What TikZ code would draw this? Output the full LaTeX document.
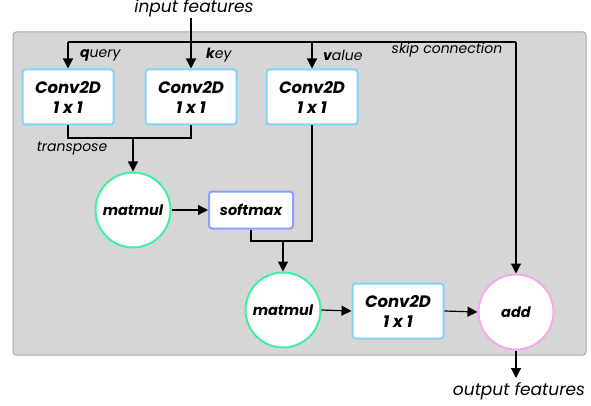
\documentclass[tikz,border=0pt]{standalone}
\usepackage{fontspec}
\setmainfont{Poppins}
\usetikzlibrary{arrows.meta,positioning}
\definecolor{bgfill}{HTML}{D6D6D6}
\definecolor{bgdraw}{HTML}{A8A8A8}
\definecolor{convc}{HTML}{7FD4F8}
\definecolor{mmc}{HTML}{40F0A0}
\definecolor{smc}{HTML}{8C9EFF}
\definecolor{addc}{HTML}{F8A8F0}
\tikzset{
  convbox/.style={draw=convc, line width=2pt, fill=white, rounded corners=3pt, minimum width=91pt, minimum height=55pt, inner sep=0pt, align=center, font=\fontsize{16.5}{20}\selectfont\bfseries\itshape},
  mmcirc/.style={circle, draw=mmc, line width=2pt, fill=white, minimum size=75pt, inner sep=0pt, font=\fontsize{14.5}{16}\selectfont\bfseries\itshape},
  addcirc/.style={circle, draw=addc, line width=2pt, fill=white, minimum size=75pt, inner sep=0pt, font=\fontsize{14.5}{16}\selectfont\bfseries\itshape},
  smbox/.style={draw=smc, line width=2pt, fill=white, rounded corners=3pt, minimum width=84pt, minimum height=37pt, inner sep=0pt, font=\fontsize{14.5}{16}\selectfont\bfseries\itshape},
  lbl/.style={inner sep=0pt, font=\fontsize{14}{16}\selectfont\itshape},
  biglbl/.style={inner sep=0pt, font=\fontsize{17}{19}\selectfont\itshape},
  conn/.style={line width=1.2pt, black},
  arr/.style={conn, -{Triangle[length=10pt,width=10pt]}}
}
\begin{document}
\begin{tikzpicture}[x=1pt,y=-1pt]
\useasboundingbox (0,0) rectangle (591,406);
\filldraw[fill=bgfill, draw=bgdraw, line width=1pt, rounded corners=3pt] (13,32) rectangle (586,355);

\node[convbox] (Q) at (68,97) {Conv2D\\1 x 1};
\node[convbox] (K) at (191,97) {Conv2D\\1 x 1};
\node[convbox] (V) at (312,97) {Conv2D\\1 x 1};
\node[mmcirc] (mm1) at (133,210) {matmul};
\node[smbox] (sm) at (251,210) {softmax};
\node[mmcirc] (mm2) at (283,310) {matmul};
\node[convbox] (C3) at (398,311) {Conv2D\\1 x 1};
\node[addcirc] (add) at (516,312) {add};

\node[biglbl] (in) at (194,8) {input features};
\node[biglbl] (out) at (519,391) {output features};
\node[lbl, anchor=west] (lq) at (80,55) {\textbf{q}uery};
\node[lbl, anchor=west] (lk) at (206,55) {\textbf{k}ey};
\node[lbl, anchor=west] (lv) at (323,55) {\textbf{v}alue};
\node[lbl] (lskip) at (447,50) {skip connection};
\node[lbl] (ltr) at (72,149) {transpose};

\coordinate (tl) at (68,42);
\coordinate (tr) at (516,42);
\coordinate (j1) at (133,138);
\coordinate (j2) at (283,241);

\draw[conn] (tl) -- (tr);
\draw[arr] (tl) -- (Q.north);
\draw[arr] (V.north |- tl) -- (V.north);
\draw[arr] (tr) -- (add.north);
\draw[arr] (191,18) -- (K.north);

\draw[conn] (Q.south) |- (j1) -| (K.south);
\draw[arr] (j1) -- (mm1.north);
\draw[arr] (mm1.east) -- (sm.west);
\draw[conn] (sm.south) |- (j2) -| (V.south);
\draw[arr] (j2) -- (mm2.north);
\draw[arr] (mm2.east) -- (C3.west);
\draw[arr] (C3.east) -- (add.west);
\draw[arr] (add.south) -- (516,378);
\end{tikzpicture}
\end{document}
